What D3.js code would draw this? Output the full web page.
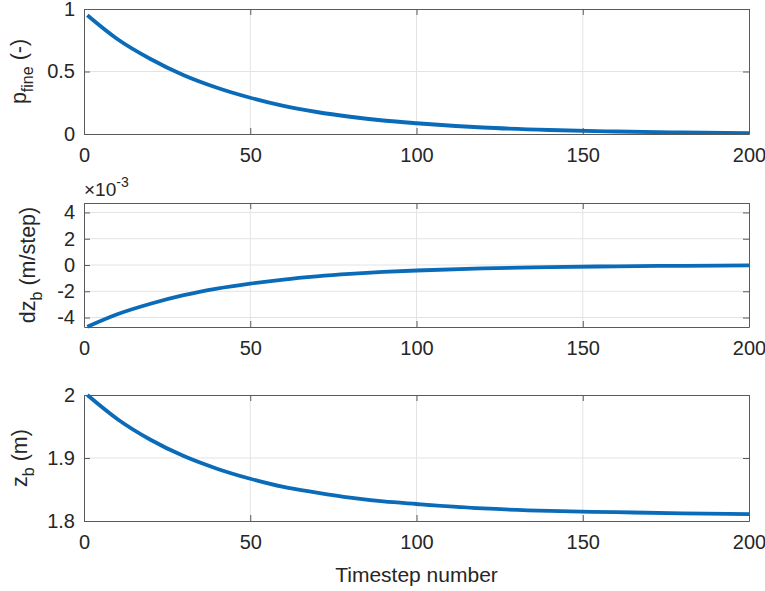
<!DOCTYPE html>
<html>
<head>
<meta charset="utf-8">
<script src="https://cdn.jsdelivr.net/npm/d3@7"></script>
<style>
  body { margin: 0; background: #fff; }
  text { font-family: "Liberation Sans", Arial, Helvetica, sans-serif; fill: #262626; }
</style>
</head>
<body>
<div id="chart"></div>
<script>
// timestep samples
var steps = [1, 10, 20, 30, 40, 50, 60, 70, 80, 90, 100, 120, 140, 160, 180, 200];
var pFine = [0.95, 0.76, 0.60, 0.47, 0.37, 0.29, 0.225, 0.176, 0.138, 0.108, 0.086, 0.052, 0.032, 0.020, 0.012, 0.007];
var dzB = [-4.70, -3.75, -2.95, -2.30, -1.80, -1.42, -1.11, -0.87, -0.68, -0.53, -0.42, -0.25, -0.16, -0.10, -0.06, -0.035]; // x 1e-3
var zB = [2.0, 1.962, 1.929, 1.903, 1.883, 1.867, 1.854, 1.845, 1.837, 1.831, 1.827, 1.820, 1.816, 1.814, 1.812, 1.811];

var xTicks = [0, 50, 100, 150, 200];
var pTicks = [0, 0.5, 1];
var dzTicks = [-4, -2, 0, 2, 4];
var zTicks = [1.8, 1.9, 2];

var width = 765, height = 591;
var left = 84, right = 749;

var svg = d3.select('#chart').append('svg')
    .attr('width', width)
    .attr('height', height);

var x = d3.scaleLinear().domain([0, 200]).range([left, right]);

var panels = [
    { top: 9, bottom: 134, domain: [0, 1], ticks: pTicks, values: pFine,
      fmt: function(d) { return d3.format('')(d); },
      label: ['p', 'fine', ' (-)'], labelX: 26 },
    { top: 203, bottom: 327, domain: [-4.72, 4.72], ticks: dzTicks, values: dzB,
      fmt: function(d) { return d; },
      label: ['dz', 'b', ' (m/step)'], labelX: 35 },
    { top: 395, bottom: 521, domain: [1.8, 2], ticks: zTicks, values: zB,
      fmt: function(d) { return d === 2 ? '2' : d3.format('.1f')(d); },
      label: ['z', 'b', ' (m)'], labelX: 27 }
];

panels.forEach(function(p, i) {
    var y = d3.scaleLinear().domain(p.domain).range([p.bottom, p.top]);
    var g = svg.append('g');

    /* grid */
    g.selectAll('line.gx').data(xTicks.slice(1, -1)).enter().append('line')
        .attr('x1', function(d) { return x(d); })
        .attr('x2', function(d) { return x(d); })
        .attr('y1', p.top).attr('y2', p.bottom)
        .attr('stroke', '#e3e3e3').attr('stroke-width', 1);
    g.selectAll('line.gy').data(p.ticks.filter(function(d) {
        return y(d) > p.top + 1 && y(d) < p.bottom - 1;
    })).enter().append('line')
        .attr('x1', left).attr('x2', right)
        .attr('y1', function(d) { return y(d); })
        .attr('y2', function(d) { return y(d); })
        .attr('stroke', '#e3e3e3').attr('stroke-width', 1);

    /* curve */
    var line = d3.line()
        .x(function(d, j) { return x(steps[j]); })
        .y(function(d) { return y(d); })
        .curve(d3.curveMonotoneX);
    g.append('path')
        .datum(p.values)
        .attr('d', line)
        .attr('fill', 'none')
        .attr('stroke', '#0a6bb8')
        .attr('stroke-width', 3.8);

    /* axes, ticks inward on all sides */
    var axB = d3.axisBottom(x).tickValues(xTicks).tickSizeInner(-6).tickSizeOuter(0).tickPadding(14);
    var axT = d3.axisTop(x).tickValues(xTicks).tickSizeInner(-6).tickSizeOuter(0).tickFormat('');
    var axL = d3.axisLeft(y).tickValues(p.ticks).tickSizeInner(-6).tickSizeOuter(0).tickPadding(9).tickFormat(p.fmt);
    var axR = d3.axisRight(y).tickValues(p.ticks).tickSizeInner(-6).tickSizeOuter(0).tickFormat('');

    [
        [axB, 'translate(0,' + p.bottom + ')'],
        [axT, 'translate(0,' + p.top + ')'],
        [axL, 'translate(' + left + ',0)'],
        [axR, 'translate(' + right + ',0)']
    ].forEach(function(a) {
        var ag = g.append('g').attr('transform', a[1]).call(a[0]);
        ag.select('.domain').attr('stroke', '#5a5a5a');
        ag.selectAll('.tick line').attr('stroke', '#5a5a5a');
        ag.selectAll('.tick text')
            .attr('font-size', 20)
            .attr('fill', '#262626');
    });

    /* y label */
    var cy = (p.top + p.bottom) / 2;
    var t = g.append('text')
        .attr('transform', 'translate(' + p.labelX + ',' + cy + ') rotate(-90)')
        .attr('text-anchor', 'middle')
        .attr('font-size', 21.5);
    t.append('tspan').text(p.label[0]);
    t.append('tspan').attr('dy', 7).attr('font-size', 16).text(p.label[1]);
    t.append('tspan').attr('dy', -7).text(p.label[2]);
});

/* exponent note for the middle panel */
var ex = svg.append('text').attr('x', 84).attr('y', 196).attr('font-size', 19);
ex.append('tspan').text('\u00d710');
ex.append('tspan').attr('dy', -9).attr('font-size', 14).text('-3');

/* x label */
svg.append('text')
    .attr('x', x(100)).attr('y', 582)
    .attr('text-anchor', 'middle')
    .attr('font-size', 21)
    .text('Timestep number');
</script>
</body>
</html>
